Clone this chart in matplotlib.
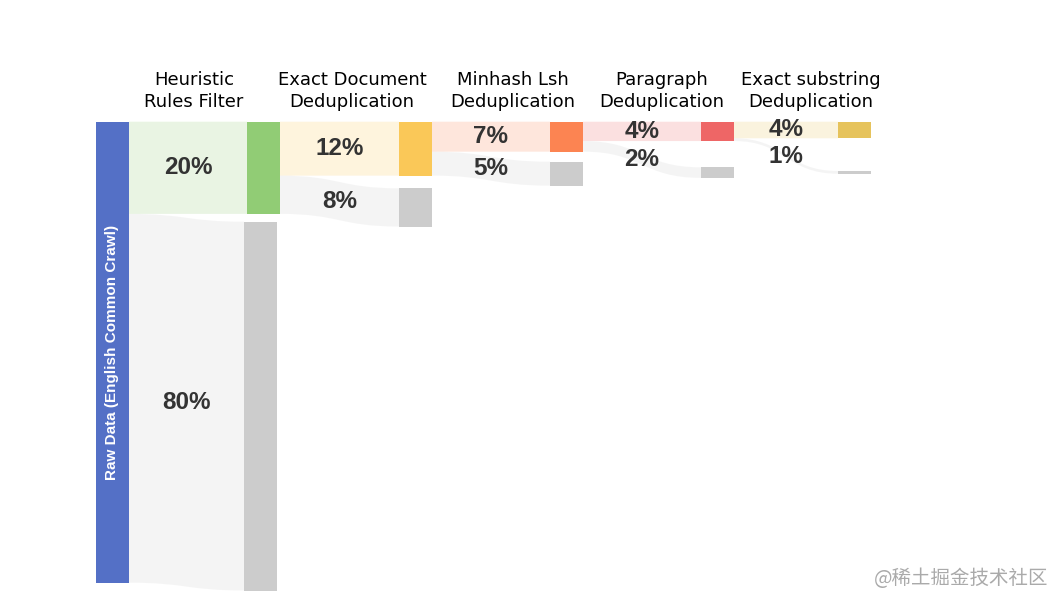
import matplotlib
matplotlib.use('Agg')
import matplotlib.pyplot as plt
from matplotlib.path import Path
from matplotlib.patches import PathPatch, Rectangle

# Sankey of the data cleaning pipeline, values in % of raw data
source_name = 'Raw Data (English Common Crawl)'
stages = ['Heuristic\nRules Filter', 'Exact Document\nDeduplication', 'Minhash Lsh\nDeduplication',
          'Paragraph\nDeduplication', 'Exact substring\nDeduplication']
kept = [20, 11.7, 6.5, 4.2, 3.6]
removed = [80, 8.3, 5.2, 2.3, 0.6]
kept_labels = ['20%', '12%', '7%', '4%', '4%']
removed_labels = ['80%', '8%', '5%', '2%', '1%']

source_color = '#5470c6'
kept_colors = ['#91cc75', '#fac858', '#fc8452', '#ee6666', '#e6c35c']
removed_color = '#cccccc'

# layout (pixels)
px_per_pct = 4.61
top = 121.7
node_w = 33
source_x = 96
kept_x = [247, 399, 550, 701, 838]
removed_x = [244, 399, 550, 701, 838]
removed_top = [221.7, 188.3, 161.7, 167.3, 171]
header_x = [194, 352, 513, 662, 811]


def band(ax, x0, y0a, y0b, x1, y1a, y1b, color):
    xm = (x0 + x1) / 2
    verts = [(x0, y0a), (xm, y0a), (xm, y1a), (x1, y1a),
             (x1, y1b), (xm, y1b), (xm, y0b), (x0, y0b), (x0, y0a)]
    codes = [Path.MOVETO, Path.CURVE4, Path.CURVE4, Path.CURVE4,
             Path.LINETO, Path.CURVE4, Path.CURVE4, Path.CURVE4, Path.CLOSEPOLY]
    ax.add_patch(PathPatch(Path(verts, codes), facecolor=color, edgecolor='none',
                           alpha=0.2, zorder=1))
    return xm, ((y0a + y0b) / 2 + (y1a + y1b) / 2) / 2


fig = plt.figure(figsize=(10.56, 5.94), dpi=100)
ax = fig.add_axes([0, 0, 1, 1])
ax.set_xlim(0, 1056)
ax.set_ylim(594, 0)
ax.axis('off')

pct_font = dict(family='Liberation Sans', fontsize=17.5, fontweight='bold', color='#333333',
                ha='center', va='center', zorder=3)

# source node
total = kept[0] + removed[0]
ax.add_patch(Rectangle((source_x, top), node_w, total * px_per_pct,
                       facecolor=source_color, edgecolor='none', zorder=2))
ax.text(source_x + node_w / 2, top + total * px_per_pct / 2, source_name, rotation=90,
        family='Liberation Sans', color='white', fontsize=11, fontweight='bold',
        ha='center', va='center', zorder=3)

prev_right = source_x + node_w
prev_top = top
for i in range(len(stages)):
    k = kept[i] * px_per_pct
    r = removed[i] * px_per_pct
    # kept flow
    lx, ly = band(ax, prev_right, prev_top, prev_top + k, kept_x[i], top, top + k, kept_colors[i])
    ax.text(lx, ly, kept_labels[i], **pct_font)
    # removed flow
    rx, ry = band(ax, prev_right, prev_top + k, prev_top + k + r,
                  removed_x[i], removed_top[i], removed_top[i] + r, removed_color)
    ax.text(rx, ry, removed_labels[i], **pct_font)
    # nodes
    ax.add_patch(Rectangle((kept_x[i], top), node_w, k, facecolor=kept_colors[i],
                           edgecolor='none', zorder=2))
    ax.add_patch(Rectangle((removed_x[i], removed_top[i]), node_w, r, facecolor=removed_color,
                           edgecolor='none', zorder=2))
    # header
    ax.text(header_x[i], 91, stages[i], fontsize=13, color='#000000', ha='center', va='center',
            linespacing=1.27)
    prev_right = kept_x[i] + node_w
    prev_top = top

ax.text(1048, 578, '@稀土掘金技术社区', family=['Noto Sans CJK SC', 'DejaVu Sans'], fontsize=14,
        color='#aaaaaa', ha='right', va='center')

fig.savefig('out.png', dpi=100)
